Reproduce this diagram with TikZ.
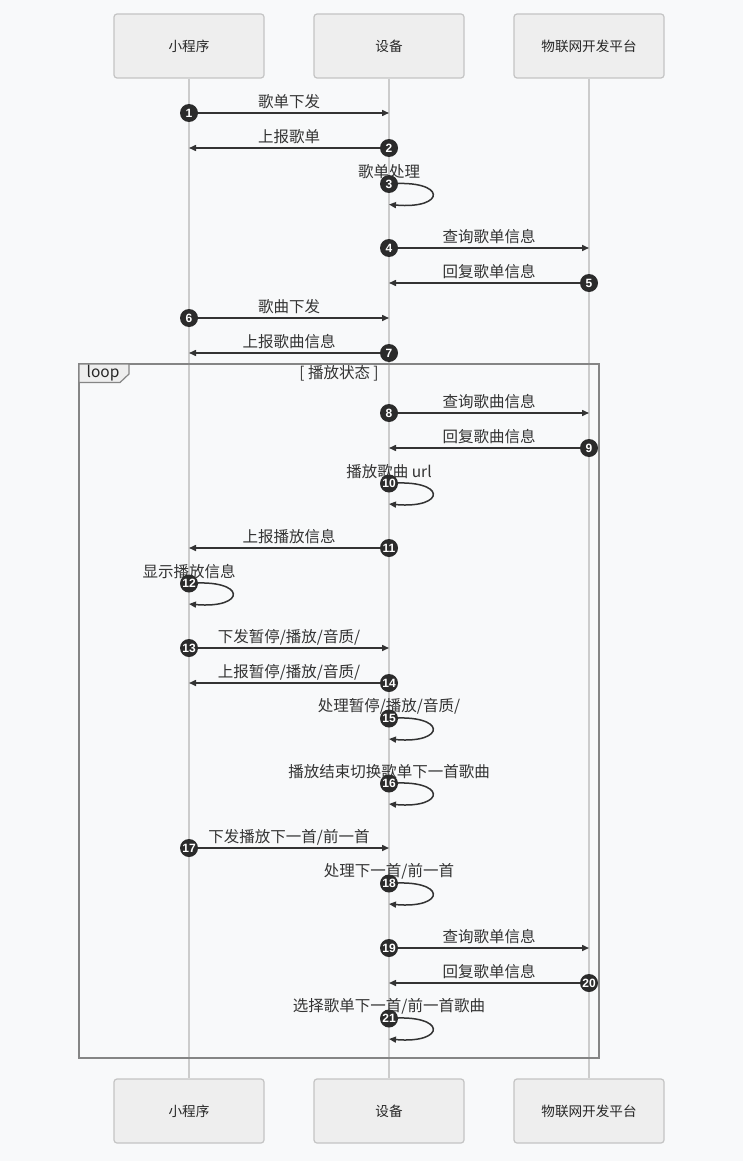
\documentclass[tikz,border=0pt]{standalone}
\usepackage{fontspec}
\setmainfont{Noto Sans CJK SC}
\newfontfamily\numfont{Liberation Sans}
\usetikzlibrary{arrows.meta,backgrounds}
\definecolor{bgc}{HTML}{F8F9FA}
\definecolor{boxfill}{HTML}{EEEEEE}
\definecolor{boxline}{HTML}{C4C4C4}
\definecolor{lifec}{HTML}{CCCCCC}
\definecolor{msgc}{HTML}{333333}
\definecolor{numc}{HTML}{2B2B2B}
\definecolor{loopc}{HTML}{858585}
\newcommand\mymsg[6]{%
  \coordinate (s#1) at (#3,#2);
  \coordinate (e#1) at (#4,#2);
  \draw[msgline] (s#1) -- (e#1);
  \node[lbl] (l#1) at ({(#3+#4)/2},{#2-11}) {#5};
  \node[numdot] (n#1) at (s#1) {#6};
}
\newcommand\myself[5]{%
  \coordinate (s#1) at (#3,#2);
  \coordinate (e#1) at (#3,{#2+20.5});
  \draw[msgline] (s#1) .. controls +(58,-5) and +(58,5) .. (e#1);
  \node[lbl] (l#1) at (#3,{#2-12}) {#4};
  \node[numdot] (n#1) at (s#1) {#5};
}
\begin{document}
\begin{tikzpicture}[x=1pt,y=-1pt,
  actor/.style={draw=boxline, line width=1.2pt, fill=boxfill, rounded corners=3pt,
    minimum width=150pt, minimum height=64pt, inner sep=0pt, font=\fontsize{13.6}{14}\selectfont, text=black!85},
  life/.style={draw=lifec, line width=1.6pt},
  msgline/.style={draw=msgc, line width=1.5pt, -{Triangle[length=7pt,width=6pt]}},
  lbl/.style={font=\fontsize{15.5}{16}\selectfont, text=black!80, inner sep=0pt},
  numdot/.style={circle, fill=numc, minimum size=18pt, inner sep=0pt,
    font=\numfont\bfseries\fontsize{12}{12}\selectfont, text=white},
  frame/.style={draw=loopc, line width=1.5pt},
]
\useasboundingbox (0,0) rectangle (743,1161);

% actors
\node[actor] (a1) at (189,46) {小程序};
\node[actor] (a2) at (389,46) {设备};
\node[actor] (a3) at (589,46) {物联网开发平台};
\node[actor] (b1) at (189,1111) {小程序};
\node[actor] (b2) at (389,1111) {设备};
\node[actor] (b3) at (589,1111) {物联网开发平台};
\begin{scope}[on background layer]
\fill[bgc] (0,0) rectangle (743,1161);
\draw[life] (a1.south) -- (b1.north);
\draw[life] (a2.south) -- (b2.north);
\draw[life] (a3.south) -- (b3.north);
\end{scope}

% loop frame
\draw[frame] (79,364) rectangle (599,1058);
\draw[frame, fill=boxfill, line width=1.2pt] (79,364) -- (129,364) -- (129,374) -- (120,382.5) -- (79,382.5) -- cycle;
\node[lbl, text=black!85] (looptxt) at (103,373) {loop};
\node[lbl] (loopcond) at (339,373.5) {[ 播放状态 ]};

% messages
\mymsg{1}{113}{189}{389}{歌单下发}{1}
\mymsg{2}{148}{389}{189}{上报歌单}{2}
\myself{3}{184}{389}{歌单处理}{3}
\mymsg{4}{248}{389}{589}{查询歌单信息}{4}
\mymsg{5}{283}{589}{389}{回复歌单信息}{5}
\mymsg{6}{318}{189}{389}{歌曲下发}{6}
\mymsg{7}{353}{389}{189}{上报歌曲信息}{7}
\mymsg{8}{413}{389}{589}{查询歌曲信息}{8}
\mymsg{9}{448}{589}{389}{回复歌曲信息}{9}
\myself{10}{483.5}{389}{播放歌曲 url}{10}
\mymsg{11}{548}{389}{189}{上报播放信息}{11}
\myself{12}{583.5}{189}{显示播放信息}{12}
\mymsg{13}{648}{189}{389}{下发暂停/播放/音质/}{13}
\mymsg{14}{683}{389}{189}{上报暂停/播放/音质/}{14}
\myself{15}{718.5}{389}{处理暂停/播放/音质/}{15}
\myself{16}{783.5}{389}{播放结束切换歌单下一首歌曲}{16}
\mymsg{17}{848}{189}{389}{下发播放下一首/前一首}{17}
\myself{18}{883.5}{389}{处理下一首/前一首}{18}
\mymsg{19}{948}{389}{589}{查询歌单信息}{19}
\mymsg{20}{983}{589}{389}{回复歌单信息}{20}
\myself{21}{1018.5}{389}{选择歌单下一首/前一首歌曲}{21}
\end{tikzpicture}
\end{document}
